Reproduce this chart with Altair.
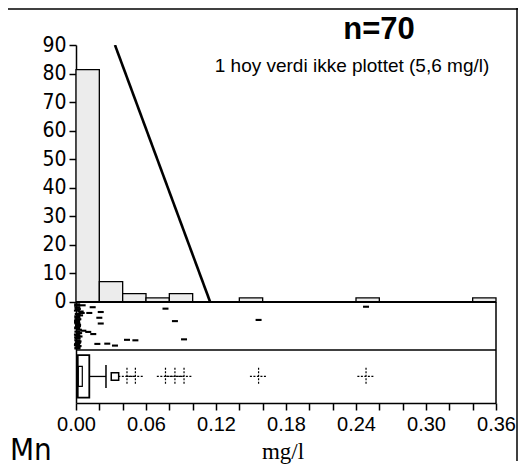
import altair as alt
import pandas as pd

# ---------------- data ----------------
# histogram (percent of observations, bins of width 0.02 mg/l)
bin_start = [0.00, 0.02, 0.04, 0.06, 0.08, 0.14, 0.24, 0.34]
bin_pct = [81.4, 7.1, 2.9, 1.4, 2.9, 1.4, 1.4, 1.4]
BIN_W = 0.02

# fitted curve (clipped)
curve_x = [0.0334, 0.115]
curve_y = [90, 0]

# one-dimensional scatter (value, jitter fraction of strip height)
strip_val = [0.0057, 0.0143, 0.0114, 0.0212, 0.0049, 0.0200, 0.0212, 0.0063,
             0.0105, 0.0148, 0.0183, 0.0268, 0.0334, 0.0437, 0.0509, 0.0767,
             0.0848, 0.0926, 0.1565, 0.2486,
             0.0010, 0.0012, 0.0008, 0.0015, 0.0011, 0.0020, 0.0009, 0.0013,
             0.0017, 0.0010, 0.0025, 0.0012, 0.0008, 0.0030, 0.0014, 0.0011,
             0.0019, 0.0009, 0.0022, 0.0013, 0.0010, 0.0016, 0.0035, 0.0012,
             0.0009, 0.0018, 0.0011, 0.0027, 0.0013, 0.0010, 0.0021, 0.0015,
             0.0008, 0.0012, 0.0040, 0.0011]
strip_jit = [0.07, 0.11, 0.23, 0.21, 0.23, 0.33, 0.45, 0.60,
             0.625, 0.67, 0.875, 0.87, 0.91, 0.79, 0.80, 0.14,
             0.40, 0.78, 0.375, 0.10,
             0.05, 0.12, 0.18, 0.25, 0.30, 0.36, 0.40, 0.45,
             0.50, 0.55, 0.58, 0.62, 0.68, 0.72, 0.76, 0.80,
             0.84, 0.88, 0.92, 0.95, 0.08, 0.15, 0.28, 0.33,
             0.43, 0.48, 0.53, 0.65, 0.70, 0.74, 0.82, 0.86,
             0.90, 0.97, 0.20, 0.38]

# box plot statistics
box_q1, box_q3 = 0.0015, 0.0114
notch_lo, notch_hi = 0.0020, 0.0054
whisker_hi = 0.0257
near_out = [0.0334]
far_out = [0.0437, 0.0509, 0.0767, 0.0848, 0.0926, 0.1565, 0.2486]

x_ticks = [round(i * 0.02, 2) for i in range(19)]
y_ticks = list(range(0, 100, 10))

# ---------------- layout (data units of y scale) ----------------
Y_MIN, Y_MAX = -35.4, 90
STRIP_H = 16.8
BOX_Y = -26.1
BOX_HALF = 7.45
NOTCH_HALF = 3.5
CAP_HALF = 4.05

NARROW = "Liberation Sans Narrow, DejaVu Sans Condensed, Arial"

xscale = alt.Scale(domain=[0, 0.36], nice=False, zero=False)
yscale = alt.Scale(domain=[Y_MIN, Y_MAX], nice=False, zero=False)
xaxis = alt.Axis(values=x_ticks, title=None,
                 labelExpr="round(datum.value*100) % 6 == 0 ? format(datum.value, '.2f') : ''",
                 labelFont="Liberation Sans", labelFontSize=20, labelPadding=4,
                 tickSize=7, tickWidth=1.5, domainWidth=1.5, labelFlush=False)
yaxis = alt.Axis(values=y_ticks, title=None, labelFont=NARROW, labelFontSize=21,
                 labelPadding=3, tickSize=7, tickWidth=1.5, domainWidth=1.5)

def X(f):
    return alt.X(f, type="quantitative", scale=xscale, axis=xaxis)

def Y(f):
    return alt.Y(f, type="quantitative", scale=yscale, axis=yaxis)

hist = pd.DataFrame({"x": bin_start, "y": bin_pct})
bars = alt.Chart(hist).transform_calculate(
    x2=f"datum.x + {BIN_W}", y0="0"
).mark_rect(fill="#ececec", stroke="black", strokeWidth=1.3).encode(
    x=X("x"), x2="x2:Q", y=Y("y"), y2="y0:Q"
)

curve = alt.Chart(pd.DataFrame({"x": curve_x, "y": curve_y})).mark_line(
    color="black", strokeWidth=2.6, clip=True
).encode(x=X("x"), y=Y("y"))

dash = "M-1,-0.35L1,-0.35L1,0.35L-1,0.35Z"
strip = alt.Chart(pd.DataFrame({"x": strip_val, "j": strip_jit})).transform_calculate(
    y=f"-datum.j * {STRIP_H}"
).mark_point(shape=dash, filled=True, color="black", size=36, opacity=1).encode(
    x=X("x"), y=Y("y")
)

# panel lines
panel = pd.DataFrame({"y": [0, -STRIP_H], "w": [2.0, 1.5]})
hlines = alt.Chart(panel).transform_calculate(x="0", x2="0.36").mark_rule(
    color="black").encode(x=X("x"), x2="x2:Q", y=Y("y"),
                          strokeWidth=alt.StrokeWidth("w:Q", scale=None))
vline = alt.Chart(pd.DataFrame({"x": [0.36], "y": [0], "y2": [Y_MIN]})).mark_rule(
    color="black", strokeWidth=1.5).encode(x=X("x"), y=Y("y"), y2="y2:Q")

# box plot
box = alt.Chart(pd.DataFrame({"x": [box_q1], "x2": [box_q3]})).transform_calculate(
    y=f"{BOX_Y + BOX_HALF}", y2=f"{BOX_Y - BOX_HALF}"
).mark_rect(fill="white", stroke="black", strokeWidth=1.8).encode(
    x=X("x"), x2="x2:Q", y=Y("y"), y2="y2:Q")
notch = alt.Chart(pd.DataFrame({"x": [notch_lo], "x2": [notch_hi]})).transform_calculate(
    y=f"{BOX_Y + NOTCH_HALF}", y2=f"{BOX_Y - NOTCH_HALF}"
).mark_rect(fill="white", stroke="black", strokeWidth=1.2).encode(
    x=X("x"), x2="x2:Q", y=Y("y"), y2="y2:Q")
whisk = alt.Chart(pd.DataFrame({"x": [box_q3], "x2": [whisker_hi]})).transform_calculate(
    y=f"{BOX_Y}"
).mark_rule(color="black", strokeWidth=1.3).encode(x=X("x"), x2="x2:Q", y=Y("y"))
cap = alt.Chart(pd.DataFrame({"x": [whisker_hi]})).transform_calculate(
    y=f"{BOX_Y + CAP_HALF}", y2=f"{BOX_Y - CAP_HALF}"
).mark_rule(color="black", strokeWidth=1.5).encode(x=X("x"), y=Y("y"), y2="y2:Q")
near = alt.Chart(pd.DataFrame({"x": near_out})).transform_calculate(
    y=f"{BOX_Y}"
).mark_point(shape="square", filled=False, color="black", size=55, strokeWidth=1.5,
             opacity=1).encode(x=X("x"), y=Y("y"))
cross = "M-1,0L1,0M0,-1L0,1"
far = alt.Chart(pd.DataFrame({"x": far_out})).transform_calculate(
    y=f"{BOX_Y}"
).mark_point(shape=cross, filled=False, color="black", size=300, strokeWidth=1.2,
             strokeDash=[2, 1.5], opacity=1).encode(x=X("x"), y=Y("y"))

# texts
def label(t, x, y, **kw):
    return alt.Chart(pd.DataFrame({"t": [t]})).mark_text(color="black", **kw).encode(
        x=alt.value(x), y=alt.value(y), text="t:N")

t_n = label("n=70", 303, -6, font="Liberation Sans", fontSize=31, fontWeight="bold",
            align="center", baseline="alphabetic")
t_sub = label("1 hoy verdi ikke plottet (5,6 mg/l)", 276, 27, font="Liberation Sans",
              fontSize=19, align="center", baseline="alphabetic")
t_mn = label("Mn", -66, 415, font=NARROW, fontSize=31, align="left",
             baseline="alphabetic")
t_unit = label("mg/l", 207, 414, font="Liberation Serif", fontSize=23,
               align="center", baseline="alphabetic")

# outer frame
frame_top = alt.Chart(pd.DataFrame({"a": [0]})).mark_rule(
    color="black", strokeWidth=1.5).encode(x=alt.value(-68), x2=alt.value(442),
                                           y=alt.value(-36))
frame_right = alt.Chart(pd.DataFrame({"a": [0]})).mark_rule(
    color="black", strokeWidth=1.5).encode(x=alt.value(441), y=alt.value(-37),
                                           y2=alt.value(416))

chart = alt.layer(
    bars, curve, hlines, vline, strip, box, notch, whisk, cap, near, far,
    t_n, t_sub, t_mn, t_unit, frame_top, frame_right
).properties(
    width=420, height=358,
    autosize=alt.AutoSizeParams(type="none"),
    padding={"left": 68, "top": 37, "right": 22, "bottom": 65},
).configure_view(stroke=None).configure_axis(
    grid=False, domainColor="black", tickColor="black", labelColor="black"
)

chart.save("out.html", embed_options={"renderer": "svg", "actions": False})
